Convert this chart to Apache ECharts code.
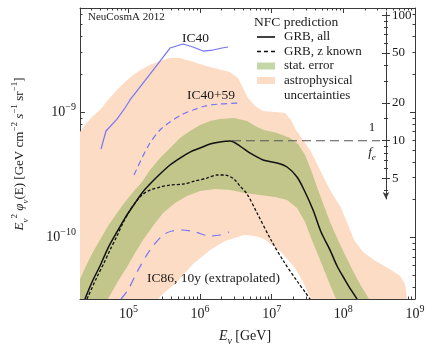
<!DOCTYPE html>
<html><head><meta charset="utf-8">
<script src="https://cdn.jsdelivr.net/npm/echarts@6/dist/echarts.min.js"></script>
<style>html,body{margin:0;padding:0;background:#fff}#c{width:429px;height:346px}</style>
</head><body><div id="c"></div>
<script>
// All values are stored as decimal logarithms: log10(E / GeV) and log10(flux / GeV cm^-2 s^-1 sr^-1)
const axisLogE = [4.323, 9];
const axisLogF = [-10.49, -8.171];

const grbAllLogE = [4.392,4.504,4.602,4.714,4.839,4.951,5.063,5.189,5.300,5.440,5.580,5.719,5.859,5.999,6.138,6.278,6.418,6.557,6.697,6.878,7.074,7.214,7.353,7.465,7.577,7.688,7.814,7.912,8.024,8.107,8.191];
const grbAllLogF = [-10.49,-10.339,-10.227,-10.084,-9.956,-9.845,-9.749,-9.645,-9.574,-9.494,-9.422,-9.367,-9.319,-9.287,-9.255,-9.239,-9.231,-9.271,-9.327,-9.382,-9.406,-9.438,-9.518,-9.637,-9.781,-9.956,-10.100,-10.227,-10.339,-10.418,-10.49];

const grbZLogE = [4.420,4.560,4.658,4.742,4.839,4.923,5.007,5.091,5.189,5.300,5.440,5.580,5.761,5.929,6.096,6.236,6.348,6.473,6.557,6.655,6.795,6.990,7.172,7.353,7.465,7.535];
const grbZLogF = [-10.49,-10.315,-10.203,-10.100,-9.988,-9.884,-9.797,-9.725,-9.661,-9.622,-9.598,-9.582,-9.574,-9.550,-9.526,-9.502,-9.502,-9.534,-9.590,-9.653,-9.805,-10.020,-10.195,-10.347,-10.434,-10.49];

const ic40LogE = [4.616,4.686,4.839,4.951,5.021,5.203,5.398,5.580,5.761,5.901,6.040,6.180,6.306,6.390];
const ic40LogF = [-9.295,-9.151,-9.056,-8.968,-8.904,-8.769,-8.626,-8.490,-8.458,-8.482,-8.514,-8.506,-8.490,-8.482];

const ic4059LogE = [5.077,5.175,5.300,5.440,5.580,5.761,5.901,6.068,6.278,6.557];
const ic4059LogF = [-9.502,-9.382,-9.247,-9.143,-9.080,-9.016,-8.984,-8.952,-8.936,-8.928];

const ic86LogE = [4.895,4.993,5.119,5.300,5.482,5.608,5.747,5.929,6.138,6.278,6.404];
const ic86LogF = [-10.49,-10.418,-10.275,-10.100,-9.980,-9.948,-9.940,-9.956,-9.988,-9.980,-9.956];

const greenUpperLogE = [4.323,4.420,4.504,4.602,4.714,4.839,4.951,5.063,5.189,5.300,5.440,5.580,5.719,5.859,5.999,6.138,6.278,6.473,6.655,6.795,6.892,7.074,7.255,7.367,7.465,7.549,7.647,7.730,7.814,7.912,8.024,8.149,8.247,8.359];
const greenUpperLogF = [-10.331,-10.211,-10.116,-10.020,-9.908,-9.805,-9.717,-9.637,-9.558,-9.462,-9.367,-9.287,-9.207,-9.151,-9.104,-9.072,-9.056,-9.048,-9.072,-9.120,-9.143,-9.167,-9.207,-9.255,-9.343,-9.462,-9.622,-9.749,-9.876,-10.004,-10.139,-10.283,-10.386,-10.49];
const greenLowerLogE = [4.323,4.714,4.839,4.979,5.091,5.203,5.342,5.482,5.649,5.817,5.999,6.208,6.418,6.627,6.837,7.046,7.214,7.353,7.465,7.549,7.647,7.730,7.814,7.898];
const greenLowerLogF = [-10.49,-10.49,-10.363,-10.235,-10.124,-10.020,-9.908,-9.805,-9.725,-9.669,-9.629,-9.614,-9.622,-9.645,-9.661,-9.677,-9.701,-9.765,-9.876,-10.004,-10.139,-10.259,-10.378,-10.49];

const peachUpperLogE = [4.323,4.392,4.490,4.602,4.714,4.839,4.951,5.063,5.189,5.300,5.440,5.580,5.719,5.859,5.999,6.138,6.306,6.418,6.529,6.599,6.669,6.767,6.878,7.046,7.186,7.269,7.339,7.437,7.535,7.619,7.688,7.814,7.968,8.066,8.149,8.275,8.429,8.666,8.792,8.862,8.890];
const peachUpperLogF = [-9.159,-9.104,-9.040,-8.984,-8.904,-8.825,-8.761,-8.705,-8.657,-8.626,-8.594,-8.570,-8.570,-8.594,-8.618,-8.641,-8.665,-8.681,-8.729,-8.809,-8.888,-8.952,-8.992,-9.000,-9.008,-9.064,-9.143,-9.223,-9.303,-9.398,-9.478,-9.622,-9.765,-9.900,-10.020,-10.116,-10.179,-10.259,-10.307,-10.370,-10.49];
const peachLowerLogE = [4.323,5.412,5.510,5.677,5.901,6.138,6.348,6.613,6.767,6.892,7.130,7.325,7.437,7.507,7.549];
const peachLowerLogF = [-10.49,-10.49,-10.434,-10.355,-10.211,-10.100,-10.028,-9.980,-9.988,-10.012,-10.116,-10.243,-10.355,-10.442,-10.49];

const feLineLogE = [6.445, 8.513];
const feLineLogF = [-9.229, -9.229];

// tick labels
const xMajorTicks = [1e5, 1e6, 1e7, 1e8, 1e9];
const yMajorTicks = [1e-10, 1e-9];
const feTicks = [5, 10, 20, 50, 100];
const feMinorTicks = [4, 6, 7, 8, 9, 15, 30, 40, 60, 70, 80, 90];
const feAxisRange = [3.43, 106];

const FONT = '"Liberation Serif", "DejaVu Serif", serif';
const TXT = '#1a1a1a';
const FRAME = '#3a3a3a';

const toPts = (le, lf) => le.map((e, i) => [Math.pow(10, e), Math.pow(10, lf[i])]);
const xMin = Math.pow(10, axisLogE[0]), xMax = Math.pow(10, axisLogE[1]);
const yMin = Math.pow(10, axisLogF[0]), yMax = Math.pow(10, axisLogF[1]);

function minorTicks(lo, hi) {
  const out = [];
  for (let d = Math.floor(Math.log10(lo)); d <= Math.ceil(Math.log10(hi)); d++) {
    for (let k = 2; k <= 9; k++) {
      const v = k * Math.pow(10, d);
      if (v >= lo && v <= hi) out.push(v);
    }
  }
  return out;
}
const xMinor = minorTicks(xMin, xMax);
const yMinor = minorTicks(yMin, yMax);

const powRich = {
  b: { fontFamily: FONT, fontSize: 14, color: TXT, lineHeight: 20, verticalAlign: 'middle' },
  s: { fontFamily: FONT, fontSize: 10, color: TXT, lineHeight: 10, verticalAlign: 'top' }
};
const powFmt = v => '{b|10}{s|' + String(Math.round(Math.log10(v))).replace('-', '\u2212') + '}';

function xAx(pos, values, len, withLabel, withLine) {
  return {
    type: 'log', gridIndex: 0, position: pos, min: xMin, max: xMax,
    axisLine: { show: withLine, onZero: false, lineStyle: { color: FRAME, width: 1 } },
    axisTick: { show: true, inside: true, length: len, customValues: values, lineStyle: { color: FRAME, width: 1 } },
    axisLabel: withLabel ? { show: true, customValues: values, formatter: powFmt, rich: powRich, margin: 5, showMinLabel: true, showMaxLabel: true, hideOverlap: false } : { show: false },
    splitLine: { show: false }, minorTick: { show: false }
  };
}
function yAx(pos, values, len, withLabel, withLine) {
  return {
    type: 'log', gridIndex: 0, position: pos, min: yMin, max: yMax,
    axisLine: { show: withLine, onZero: false, lineStyle: { color: FRAME, width: 1 } },
    axisTick: { show: true, inside: true, length: len, customValues: values, lineStyle: { color: FRAME, width: 1 } },
    axisLabel: withLabel ? { show: true, customValues: values, formatter: powFmt, rich: powRich, margin: 4, showMinLabel: true, showMaxLabel: true, hideOverlap: false } : { show: false },
    splitLine: { show: false }, minorTick: { show: false }
  };
}
function feAx(values, len, inside, withLabel, withLine) {
  return {
    type: 'log', gridIndex: 1, position: 'right', min: feAxisRange[0], max: feAxisRange[1],
    axisLine: { show: withLine, onZero: false, symbol: ['arrow', 'none'], symbolSize: [5, 7], lineStyle: { color: FRAME, width: 1 } },
    axisTick: { show: true, inside: inside, length: len, customValues: values, lineStyle: { color: FRAME, width: 1 } },
    axisLabel: withLabel ? { show: true, customValues: values, margin: 6, fontFamily: FONT, fontSize: 13, color: TXT, showMinLabel: true, showMaxLabel: true, hideOverlap: false } : { show: false },
    splitLine: { show: false }, minorTick: { show: false }
  };
}

function band(name, upE, upF, loE, loF, color) {
  const upper = toPts(upE, upF);
  const lower = toPts(loE, loF);
  const verts = upper.concat(lower.slice().reverse());
  return {
    type: 'custom', name: name, xAxisIndex: 0, yAxisIndex: 0,
    data: verts, encode: { x: 0, y: 1 },
    itemStyle: { color: color }, silent: true, z: 1,
    renderItem: function (params, api) {
      if (params.dataIndex !== 0) return;
      return { type: 'polygon', shape: { points: verts.map(p => api.coord(p)) }, style: { fill: color } };
    }
  };
}
function line(name, le, lf, color, width, dash, smooth) {
  return {
    type: 'line', name: name, xAxisIndex: 0, yAxisIndex: 0, data: toPts(le, lf),
    symbol: 'none', smooth: smooth, clip: true, silent: true, z: 3,
    lineStyle: { color: color, width: width, type: dash || 'solid', cap: 'butt' },
    itemStyle: { color: color }
  };
}

const BLUE = '#7474f6';
const PEACH = '#fddcc5';
const GREEN = 'rgba(140,178,86,0.52)';
const SOLID_ICON = 'path://M0,0h18v1.6h-18z';
const DASH_ICON = 'path://M0,0h4v1.6h-4zM7,0h4v1.6h-4zM14,0h4v1.6h-4z';

function txt(x, y, text, size, extra) {
  return Object.assign({ type: 'text', x: x, y: y, z: 100, silent: true,
    style: { text: text, fontFamily: FONT, fontSize: size, fill: TXT, verticalAlign: 'middle', textVerticalAlign: 'middle' } }, extra || {});
}

const option = {
  animation: false,
  backgroundColor: '#fff',
  grid: [
    { left: 80, top: 8, right: 14, bottom: 47, containLabel: false, outerBoundsMode: 'none' },
    { left: 385, top: 12, width: 1, height: 187, containLabel: false, outerBoundsMode: 'none' }
  ],
  xAxis: [
    xAx('bottom', xMajorTicks, 5, true, true),
    xAx('bottom', xMinor, 2.5, false, false),
    xAx('top', xMajorTicks, 5, false, true),
    xAx('top', xMinor, 2.5, false, false),
    { type: 'value', gridIndex: 1, show: false, min: 0, max: 1 }
  ],
  yAxis: [
    yAx('left', yMajorTicks, 5, true, true),
    yAx('left', yMinor, 2.5, false, false),
    yAx('right', yMajorTicks, 5, false, true),
    yAx('right', yMinor, 2.5, false, false),
    feAx(feTicks, 4, false, true, true),
    feAx(feTicks, 4, true, false, false),
    feAx(feMinorTicks, 2, false, false, false),
    feAx(feMinorTicks, 2, true, false, false)
  ],
  legend: {
    orient: 'vertical', left: 257, top: 30, itemWidth: 18, itemHeight: 7, itemGap: 0.5,
    selectedMode: false, padding: 0, symbolKeepAspect: true, z: 50,
    textStyle: { fontFamily: FONT, fontSize: 13, color: TXT, lineHeight: 14, padding: [0, 0, 0, 4] },
    data: [
      { name: 'GRB, all', icon: SOLID_ICON, itemStyle: { color: '#111', borderWidth: 0 } },
      { name: 'GRB, z known', icon: DASH_ICON, itemStyle: { color: '#111', borderWidth: 0 } },
      { name: 'stat. error', icon: 'rect', itemStyle: { borderWidth: 0 } },
      { name: 'astrophysical uncertainties', icon: 'rect', itemStyle: { borderWidth: 0 } }
    ],
    formatter: n => n === 'astrophysical uncertainties' ? 'astrophysical' : n
  },
  series: [
    band('astrophysical uncertainties', peachUpperLogE, peachUpperLogF, peachLowerLogE, peachLowerLogF, PEACH),
    band('stat. error', greenUpperLogE, greenUpperLogF, greenLowerLogE, greenLowerLogF, GREEN),
    line('IC40', ic40LogE, ic40LogF, BLUE, 1.2, 'solid', false),
    line('IC40+59', ic4059LogE, ic4059LogF, BLUE, 1.2, [6, 4], 0.3),
    line('IC86, 10y (extrapolated)', ic86LogE, ic86LogF, BLUE, 1.2, [9, 7], 0.3),
    line('1/fe', feLineLogE, feLineLogF, '#555', 1, [9, 5], false),
    line('GRB, z known', grbZLogE, grbZLogF, '#111', 1.3, [3, 2], 0.3),
    line('GRB, all', grbAllLogE, grbAllLogF, '#111', 1.5, 'solid', 0.3)
  ],
  graphic: [
    txt(88, 17, 'NeuCosmA 2012', 11),
    txt(182, 38, 'IC40', 13.5),
    txt(187, 95, 'IC40+59', 13.5),
    txt(147, 278, 'IC86, 10y (extrapolated)', 13.5),
    txt(254, 22, 'NFC prediction', 13.5),
    txt(284, 96, 'uncertainties', 13),
    { type: 'text', x: 372, y: 128, z: 100, style: { text: '1', fontFamily: FONT, fontSize: 13, fill: TXT, align: 'center', textAlign: 'center', verticalAlign: 'middle', textVerticalAlign: 'middle' } },
    { type: 'text', x: 372, y: 153, z: 100, style: {
        text: '{i|f}{sub|e}', align: 'center', textAlign: 'center', verticalAlign: 'middle', textVerticalAlign: 'middle',
        rich: {
          i: { fontFamily: FONT, fontStyle: 'italic', fontSize: 13, fill: TXT, color: TXT, lineHeight: 18, verticalAlign: 'middle' },
          sub: { fontFamily: FONT, fontStyle: 'italic', fontSize: 9, fill: TXT, color: TXT, lineHeight: 9, verticalAlign: 'bottom' }
        } } },
    { type: 'text', x: 219, y: 336, z: 100, style: {
        text: '{i|E}{sub|\u03bd} {n|[GeV]}', verticalAlign: 'middle', textVerticalAlign: 'middle',
        rich: {
          i: { fontFamily: FONT, fontStyle: 'italic', fontSize: 14, fill: TXT, color: TXT, lineHeight: 20, verticalAlign: 'middle' },
          n: { fontFamily: FONT, fontSize: 14, fill: TXT, color: TXT, lineHeight: 20, verticalAlign: 'middle' },
          sub: { fontFamily: FONT, fontStyle: 'italic', fontSize: 10, fill: TXT, color: TXT, lineHeight: 10, verticalAlign: 'bottom' }
        } } },
    { type: 'text', x: 20, y: 154, z: 100, rotation: Math.PI / 2, style: {
        text: '{i|E}{sub|\u03bd}{sup|2} {i|\u03c6}{sub|\u03bd}{n|(E) [GeV cm}{sup|\u22122} {i|s}{sup|\u22121} {n|sr}{sup|\u22121}{n|]}',
        align: 'center', textAlign: 'center', verticalAlign: 'middle', textVerticalAlign: 'middle',
        rich: {
          i: { fontFamily: FONT, fontStyle: 'italic', fontSize: 13, fill: TXT, color: TXT, lineHeight: 20, verticalAlign: 'middle' },
          n: { fontFamily: FONT, fontSize: 13, fill: TXT, color: TXT, lineHeight: 20, verticalAlign: 'middle' },
          sup: { fontFamily: FONT, fontSize: 9, fill: TXT, color: TXT, lineHeight: 10, verticalAlign: 'top' },
          sub: { fontFamily: FONT, fontStyle: 'italic', fontSize: 9, fill: TXT, color: TXT, lineHeight: 10, verticalAlign: 'bottom' }
        } } }
  ]
};

const chart = echarts.init(document.getElementById('c'), null, { renderer: 'canvas' });
chart.setOption(option);
</script>
</body></html>
